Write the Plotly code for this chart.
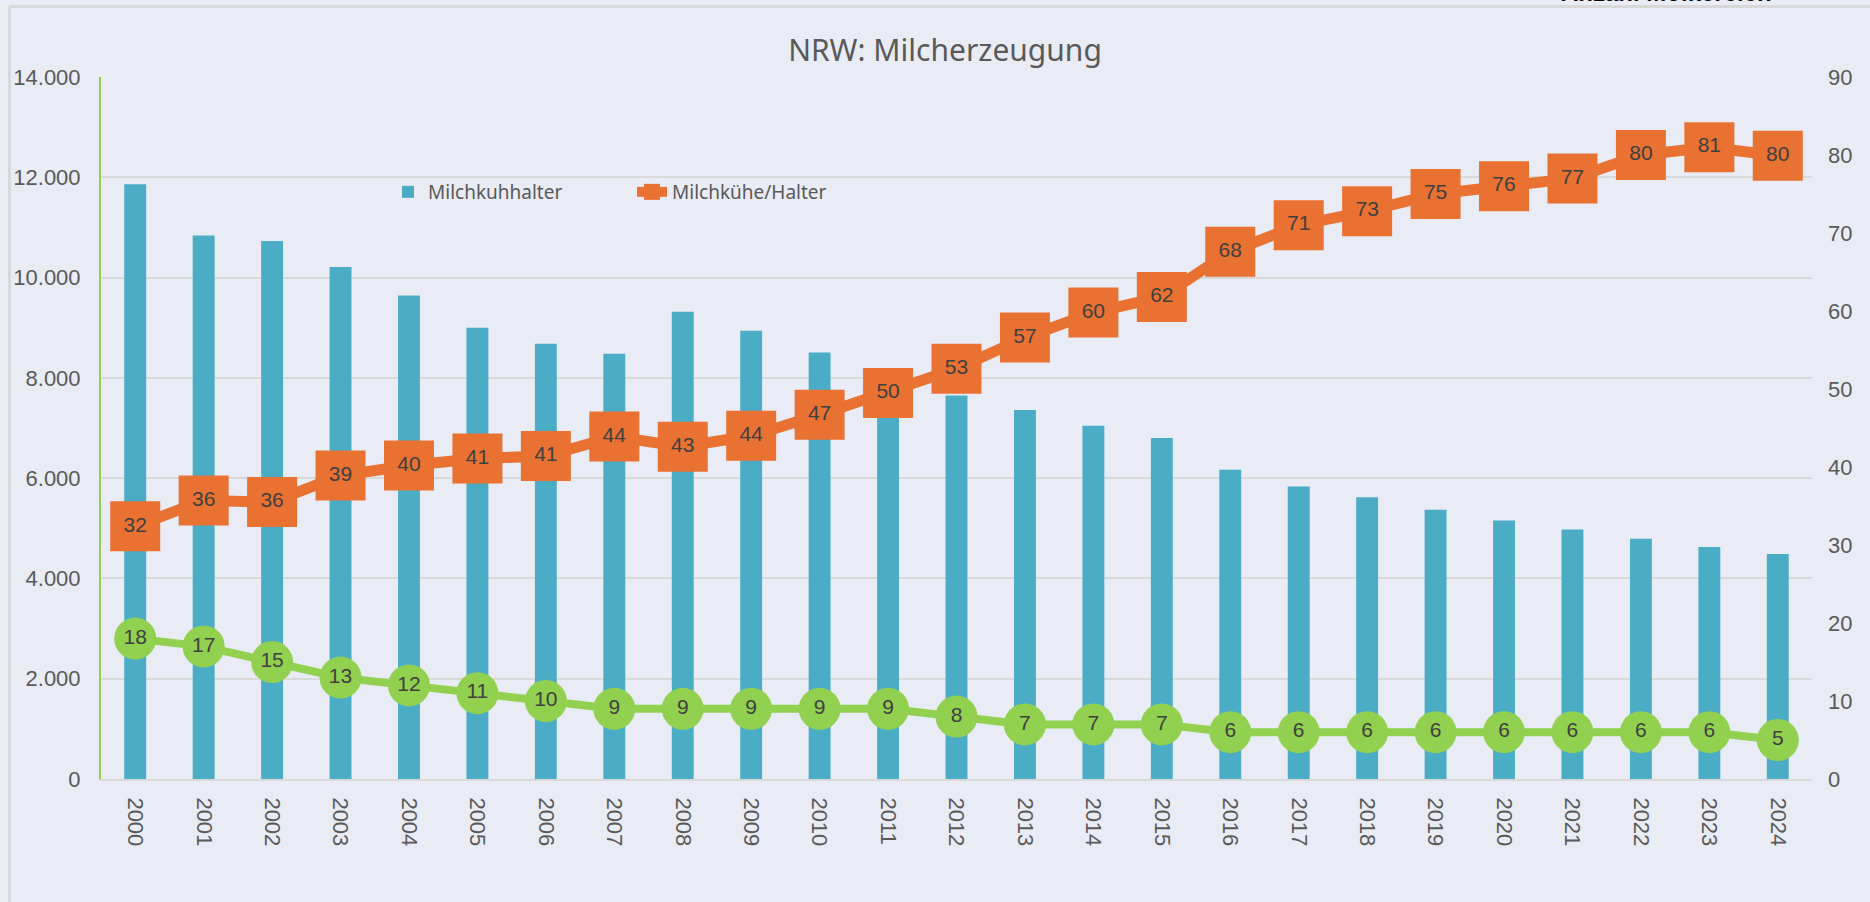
import plotly.graph_objects as go

jahre = ["2000", "2001", "2002", "2003", "2004", "2005", "2006", "2007", "2008",
         "2009", "2010", "2011", "2012", "2013", "2014", "2015", "2016", "2017",
         "2018", "2019", "2020", "2021", "2022", "2023", "2024"]

milchkuhhalter = [11860, 10840, 10730, 10210, 9640, 9000, 8680, 8480, 9320,
                  8940, 8505, 8000, 7650, 7360, 7045, 6800, 6165, 5835,
                  5620, 5370, 5155, 4975, 4790, 4625, 4485]

kuehe_pro_halter = [32.4, 35.7, 35.5, 38.9, 40.2, 41.1, 41.4, 43.9, 42.6,
                    44.0, 46.7, 49.5, 52.6, 56.6, 59.8, 61.8, 67.6, 71.0,
                    72.8, 75.0, 76.0, 77.0, 80.0, 81.0, 79.9]

anzahl_molkereien = [18, 17, 15, 13, 12, 11, 10, 9, 9, 9, 9, 9, 8, 7, 7, 7,
                     6, 6, 6, 6, 6, 6, 6, 6, 5]

BG = "#E9ECF5"
TXT = "#595959"
LBL = "#404040"
BLUE = "#4BACC6"
ORANGE = "#E97132"
GREEN = "#92D050"
GRID = "#D9D9D9"

W, H = 1870, 902
L, R, T, B = 101, 58, 77, 123
PW, PH = W - L - R, H - T - B


def px(x):
    return (x - L) / PW


def py(y):
    return (H - B - y) / PH


fig = go.Figure()

fig.add_trace(go.Bar(
    x=jahre, y=milchkuhhalter, name="Milchkuhhalter",
    marker=dict(color=BLUE, line=dict(width=0)),
    width=0.32, yaxis="y",
))

fig.add_trace(go.Scatter(
    x=jahre, y=anzahl_molkereien, name="Anzahl Molkereien",
    mode="lines+markers+text", yaxis="y2", showlegend=False,
    line=dict(color=GREEN, width=8),
    marker=dict(symbol="circle", size=42, color=GREEN),
    texttemplate="%{y:.0f}", textposition="middle center",
    textfont=dict(family="Liberation Sans, Arial, sans-serif", size=21, color=LBL),
))

fig.add_trace(go.Scatter(
    x=jahre, y=kuehe_pro_halter, name="Milchkühe/Halter",
    mode="lines+markers+text", yaxis="y2",
    line=dict(color=ORANGE, width=11),
    marker=dict(symbol="square", size=50, color=ORANGE),
    texttemplate="%{y:.0f}", textposition="middle center",
    textfont=dict(family="Liberation Sans, Arial, sans-serif", size=21, color=LBL),
))

tickfont = dict(family="Liberation Sans, Arial, sans-serif", size=22, color=TXT)

fig.update_layout(
    width=W, height=H,
    margin=dict(l=L, r=R, t=T, b=B, autoexpand=False),
    paper_bgcolor=BG, plot_bgcolor=BG,
    separators=",.",
    title=dict(
        text="NRW: Milcherzeugung",
        x=px(945), xref="paper", xanchor="center",
        y=1 - 50 / H, yref="container", yanchor="middle",
        font=dict(family="Noto Sans, Open Sans, sans-serif", size=30, color=TXT),
    ),
    xaxis=dict(
        type="category", range=[-0.5, len(jahre) - 0.5], tickangle=90,
        tickfont=tickfont,
        showgrid=False, showline=True, linecolor=GRID, linewidth=2,
        ticks="", ticklabelstandoff=12, automargin=False,
    ),
    yaxis=dict(
        range=[0, 14000], dtick=2000, tickformat=",d", tickfont=tickfont,
        showgrid=True, gridcolor=GRID, gridwidth=2,
        showline=True, linecolor=GREEN, linewidth=2,
        zeroline=False, ticks="", ticklabelstandoff=14, automargin=False,
    ),
    yaxis2=dict(
        range=[0, 90], dtick=10, tickfont=tickfont, overlaying="y", side="right",
        showgrid=False, showline=False, zeroline=False,
        ticks="", ticklabelstandoff=15, automargin=False,
    ),
    legend=dict(
        orientation="h", x=px(388), xanchor="left", y=py(192), yanchor="middle",
        bgcolor="rgba(0,0,0,0)",
        font=dict(family="Noto Sans, Open Sans, sans-serif", size=19, color=TXT),
        entrywidthmode="pixels", entrywidth=199, traceorder="normal",
    ),
    showlegend=True,
    annotations=[dict(
        text="<b>Anzahl Molkereien</b>", x=px(1666), y=py(-7),
        xref="paper", yref="paper", xanchor="center", yanchor="middle",
        showarrow=False,
        font=dict(family="Liberation Sans, Arial, sans-serif", size=24, color="#000000"),
    )],
    shapes=[
        dict(type="line", xref="paper", yref="paper", layer="above",
             x0=px(9.5), x1=px(9.5), y0=py(6.5), y1=py(H + 10),
             line=dict(color=GRID, width=3)),
        dict(type="line", xref="paper", yref="paper", layer="above",
             x0=px(9.5), x1=px(W + 10), y0=py(6.5), y1=py(6.5),
             line=dict(color=GRID, width=3)),
    ],
)

fig.write_html(
    "out.html",
    config={"displayModeBar": False},
    post_script="document.body.style.margin='0';"
                "document.body.style.background='" + BG + "';"
                "document.body.style.overflow='hidden';",
)
